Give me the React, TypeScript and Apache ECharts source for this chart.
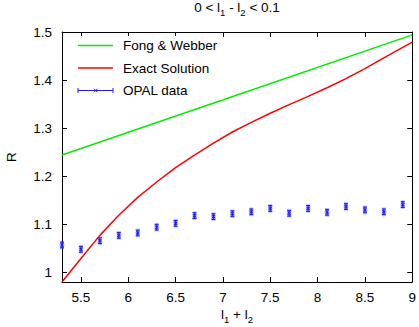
import React, { useEffect, useRef } from "react";
import * as echarts from "echarts";

const xTicks = [5.5, 6, 6.5, 7, 7.5, 8, 8.5, 9];
const yTicks = [1, 1.1, 1.2, 1.3, 1.4, 1.5];

const fwX = [5.3, 7.15, 9.0];
const fwY = [1.244, 1.369, 1.494];

const exactX = [5.3, 5.5, 5.7, 5.9, 6.1, 6.3, 6.5, 6.7, 6.9, 7.1, 7.3, 7.5, 7.7, 7.9, 8.1, 8.3, 8.5, 8.7, 8.9, 9.0];
const exactY = [0.98, 1.029, 1.077, 1.119, 1.156, 1.188, 1.218, 1.244, 1.269, 1.292, 1.312, 1.331, 1.349, 1.366, 1.384, 1.403, 1.424, 1.446, 1.468, 1.479];

const opalX = [5.3, 5.5, 5.7, 5.9, 6.1, 6.3, 6.5, 6.7, 6.9, 7.1, 7.3, 7.5, 7.7, 7.9, 8.1, 8.3, 8.5, 8.7, 8.9];
const opalY = [1.057, 1.048, 1.066, 1.077, 1.082, 1.094, 1.102, 1.118, 1.116, 1.122, 1.126, 1.133, 1.123, 1.133, 1.125, 1.137, 1.13, 1.126, 1.141];
const opalErr = [0.006, 0.006, 0.006, 0.006, 0.006, 0.006, 0.006, 0.006, 0.006, 0.006, 0.006, 0.006, 0.006, 0.006, 0.006, 0.006, 0.006, 0.006, 0.006];

const FONT = "'Liberation Sans', Arial, sans-serif";
const FS = 13.5;
const BLUE = "#1a1aff";

export default function App() {
  const ref = useRef<HTMLDivElement>(null);
  useEffect(() => {
    document.body.style.margin = "0";
    const chart = echarts.init(ref.current!, null, { renderer: "svg" });
    const axisCommon = {
      type: "value" as const,
      splitLine: { show: false },
      axisLine: { show: true, onZero: false, lineStyle: { color: "#000", width: 1 } },
    };
    const rich = {
      n: { fontSize: FS, fontFamily: FONT, color: "#000", verticalAlign: "top" as const, lineHeight: 16 },
      s: { fontSize: 9.5, fontFamily: FONT, color: "#000", verticalAlign: "top" as const, lineHeight: 16, padding: [7, 0, 0, 0] },
    };
    const legendRows = [45.5, 68, 90.5];
    chart.setOption({
      animation: false,
      grid: { left: 62, right: 6, top: 32, bottom: 45, containLabel: false },
      xAxis: [
        {
          ...axisCommon,
          min: 5.3,
          max: 9,
          position: "bottom",
          axisTick: { show: true, inside: true, length: 5, customValues: xTicks, lineStyle: { color: "#000" } },
          axisLabel: { show: true, customValues: xTicks, fontSize: FS, fontFamily: FONT, color: "#000", margin: 8 },
        },
        {
          ...axisCommon,
          min: 5.3,
          max: 9,
          position: "top",
          axisTick: { show: true, inside: true, length: 5, customValues: xTicks, lineStyle: { color: "#000" } },
          axisLabel: { show: false },
        },
      ],
      yAxis: [
        {
          ...axisCommon,
          min: 0.98,
          max: 1.5,
          position: "left",
          axisTick: { show: true, inside: true, length: 5, customValues: yTicks, lineStyle: { color: "#000" } },
          axisLabel: { show: true, customValues: yTicks, fontSize: FS, fontFamily: FONT, color: "#000", margin: 10 },
        },
        {
          ...axisCommon,
          min: 0.98,
          max: 1.5,
          position: "right",
          axisTick: { show: true, inside: true, length: 5, customValues: yTicks, lineStyle: { color: "#000" } },
          axisLabel: { show: false },
        },
      ],
      series: [
        {
          name: "Fong & Webber",
          type: "line",
          showSymbol: false,
          lineStyle: { color: "#00ee00", width: 1.5 },
          data: fwX.map((x, i) => [x, fwY[i]]),
        },
        {
          name: "Exact Solution",
          type: "line",
          showSymbol: false,
          lineStyle: { color: "#ff0000", width: 1.5 },
          data: exactX.map((x, i) => [x, exactY[i]]),
        },
        {
          name: "OPAL data",
          type: "custom",
          data: opalX.map((x, i) => [x, opalY[i], opalErr[i]]),
          renderItem: (params: any, api: any) => {
            const x = api.value(0);
            const y = api.value(1);
            const e = api.value(2);
            const t = api.coord([x, y + e]);
            const b = api.coord([x, y - e]);
            const c = api.coord([x, y]);
            const w = 2;
            const m = 1.6;
            const mk = (stroke: string, lw: number) => [
              { type: "line", shape: { x1: t[0], y1: t[1], x2: b[0], y2: b[1] }, style: { stroke, lineWidth: lw } },
              { type: "line", shape: { x1: t[0] - w, y1: t[1], x2: t[0] + w, y2: t[1] }, style: { stroke, lineWidth: lw } },
              { type: "line", shape: { x1: b[0] - w, y1: b[1], x2: b[0] + w, y2: b[1] }, style: { stroke, lineWidth: lw } },
              { type: "line", shape: { x1: c[0] - m, y1: c[1] - m, x2: c[0] + m, y2: c[1] + m }, style: { stroke, lineWidth: lw } },
              { type: "line", shape: { x1: c[0] - m, y1: c[1] + m, x2: c[0] + m, y2: c[1] - m }, style: { stroke, lineWidth: lw } },
            ];
            return {
              type: "group",
              children: [...mk("rgba(60,60,255,0.3)", 3), ...mk(BLUE, 1)],
            };
          },
        },
      ],
      graphic: [
        {
          type: "text",
          x: 237,
          y: 0,
          style: {
            text: "{n|0 < l}{s|1}{n| - l}{s|2}{n| < 0.1}",
            rich,
            align: "center",
          },
        },
        {
          type: "text",
          x: 237,
          y: 307,
          style: {
            text: "{n|l}{s|1}{n| + l}{s|2}",
            rich,
            align: "center",
          },
        },
        {
          type: "text",
          x: 11,
          y: 157,
          rotation: Math.PI / 2,
          style: {
            text: "R",
            fontSize: FS,
            fontFamily: FONT,
            fill: "#000",
            align: "center",
            verticalAlign: "middle",
          },
        },
        { type: "rect", shape: { x: 72, y: 36, width: 150, height: 64 }, style: { fill: "#fff" }, z: 5 },
        { type: "line", z: 6, shape: { x1: 78, y1: legendRows[0], x2: 113, y2: legendRows[0] }, style: { stroke: "#00ee00", lineWidth: 1.5 } },
        { type: "line", z: 6, shape: { x1: 78, y1: legendRows[1], x2: 113, y2: legendRows[1] }, style: { stroke: "#ff0000", lineWidth: 1.5 } },
        { type: "line", z: 6, shape: { x1: 78, y1: legendRows[2], x2: 113, y2: legendRows[2] }, style: { stroke: BLUE, lineWidth: 1 } },
        { type: "line", z: 6, shape: { x1: 78, y1: legendRows[2] - 2.5, x2: 78, y2: legendRows[2] + 2.5 }, style: { stroke: BLUE, lineWidth: 1 } },
        { type: "line", z: 6, shape: { x1: 113, y1: legendRows[2] - 2.5, x2: 113, y2: legendRows[2] + 2.5 }, style: { stroke: BLUE, lineWidth: 1 } },
        { type: "line", z: 6, shape: { x1: 94, y1: legendRows[2] - 1.8, x2: 97.6, y2: legendRows[2] + 1.8 }, style: { stroke: BLUE, lineWidth: 1 } },
        { type: "line", z: 6, shape: { x1: 94, y1: legendRows[2] + 1.8, x2: 97.6, y2: legendRows[2] - 1.8 }, style: { stroke: BLUE, lineWidth: 1 } },
        ...["Fong & Webber", "Exact Solution", "OPAL data"].map((t, i) => ({
          type: "text",
          z: 6,
          x: 123,
          y: legendRows[i],
          style: { text: t, fontSize: FS, fontFamily: FONT, fill: "#000", verticalAlign: "middle" },
        })),
      ],
    });
    return () => chart.dispose();
  }, []);
  return <div ref={ref} style={{ width: 419, height: 327 }} />;
}
